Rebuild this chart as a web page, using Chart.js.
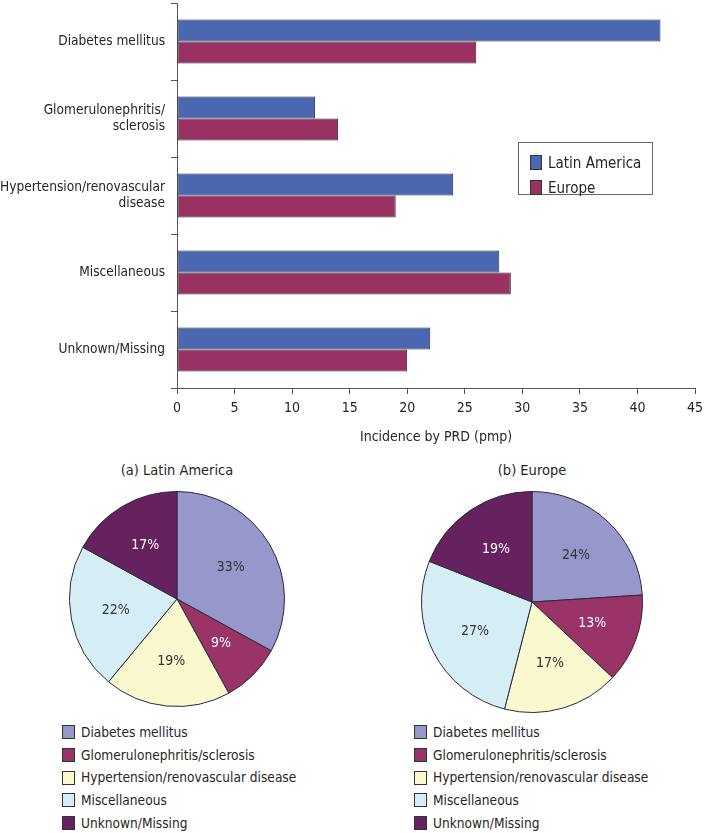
<!DOCTYPE html>
<html>
<head>
<meta charset="utf-8">
<script src="https://cdn.jsdelivr.net/npm/chart.js@4.4.1/dist/chart.umd.min.js"></script>
<style>
  body { margin:0; background:#fff; width:709px; height:833px; position:relative; overflow:hidden;
         font-family:"Liberation Sans Narrow","DejaVu Sans Condensed",sans-serif; color:#262626; }
  .abs { position:absolute; }
  .legend { position:absolute; font-size:13.6px; line-height:22.7px; }
  .legend div { display:flex; align-items:center; white-space:nowrap; }
  .legend span.sw { display:inline-block; width:11px; height:12px; border:1px solid #333; margin-right:6px; }
  .ptitle { position:absolute; font-size:14.5px; text-align:center; width:200px; }
  #barLegend { position:absolute; left:518px; top:142px; width:135px; height:53px; border:1px solid #666;
               font-size:15px; box-sizing:border-box; padding:7px 0 0 11px; }
  #barLegend div { display:flex; align-items:center; height:25px; }
  #barLegend span.sw { display:inline-block; width:10px; height:13px; border:1px solid #333; margin-right:6px; }
</style>
</head>
<body>
<canvas id="bars" class="abs" style="left:0;top:0" width="709" height="450"></canvas>
<div id="barLegend"></div>

<div class="ptitle" style="left:77px;top:462px">(a) Latin America</div>
<div class="ptitle" style="left:432px;top:462px">(b) Europe</div>
<canvas id="pieLA" class="abs" style="left:0;top:490px" width="354" height="218"></canvas>
<canvas id="pieEU" class="abs" style="left:420px;top:490px" width="224" height="224"></canvas>
<div id="legLA" class="legend" style="left:62px;top:721px"></div>
<div id="legEU" class="legend" style="left:414px;top:721px"></div>

<script>
const FONT = "'Liberation Sans Narrow','DejaVu Sans Condensed',sans-serif";
const TEXT = "#262626";
Chart.defaults.font.family = FONT;
Chart.defaults.color = TEXT;

// bar chart data
const causes = ["Diabetes mellitus", ["Glomerulonephritis/", "sclerosis"], ["Hypertension/renovascular", "disease"], "Miscellaneous", "Unknown/Missing"];
const latinAmerica = [42, 12, 24, 28, 22];
const europe = [26, 14, 19, 29, 20];
const seriesNames = ["Latin America", "Europe"];

// pie data (percent)
const pieLabels = ["Diabetes mellitus", "Glomerulonephritis/sclerosis", "Hypertension/renovascular disease", "Miscellaneous", "Unknown/Missing"];
const pieLatinAmerica = [33, 9, 19, 22, 17];
const pieEurope = [24, 13, 17, 27, 19];

const BAR_COLORS = ["#4A67AF", "#993163"];
const PIE_COLORS = ["#9797CB", "#9A3366", "#FAF8CF", "#D5EEF6", "#66215F"];
const PIE_TEXT = ["#333", "#fff", "#333", "#333", "#fff"];

new Chart(document.getElementById("bars"), {
  type: "bar",
  data: {
    labels: causes,
    datasets: [latinAmerica, europe].map((d, i) => ({
      label: seriesNames[i],
      data: d,
      backgroundColor: BAR_COLORS[i],
      borderColor: "#2a2a3a",
      borderWidth: 1,
      borderSkipped: false,
      categoryPercentage: 0.57,
      barPercentage: 1
    }))
  },
  options: {
    indexAxis: "y",
    responsive: false,
    animation: false,
    layout: { padding: { top: 3, right: 14, left: 0, bottom: 0 } },
    plugins: { legend: { display: false }, tooltip: { enabled: false } },
    scales: {
      x: {
        min: 0, max: 45,
        ticks: { stepSize: 5, font: { size: 14 }, padding: 6, color: TEXT },
        grid: { drawOnChartArea: false, tickLength: 6, color: "#555" },
        border: { color: "#555" },
        title: { display: true, text: "Incidence by PRD (pmp)", font: { size: 14 }, color: TEXT, padding: { top: 0, bottom: 4 } },
        afterFit: (s) => { s.height = 62; s.paddingLeft = 0; s.paddingRight = 0; }
      },
      y: {
        ticks: { font: { size: 13.6 }, padding: 6, color: TEXT },
        grid: { drawOnChartArea: false, offset: true, tickLength: 6, color: "#555" },
        border: { color: "#555" },
        afterFit: (s) => { s.width = 177; s.paddingTop = 0; s.paddingBottom = 0; }
      }
    }
  }
});

document.getElementById("barLegend").innerHTML = seriesNames.map((n, i) =>
  `<div><span class="sw" style="background:${BAR_COLORS[i]}"></span>${n}</div>`).join("");

const pctLabels = {
  id: "pctLabels",
  afterDatasetsDraw(chart) {
    const ctx = chart.ctx;
    const meta = chart.getDatasetMeta(0);
    ctx.save();
    ctx.font = "14px " + FONT;
    ctx.textAlign = "center";
    ctx.textBaseline = "middle";
    meta.data.forEach((arc, i) => {
      const a = (arc.startAngle + arc.endAngle) / 2;
      const r = arc.outerRadius * 0.58;
      ctx.fillStyle = PIE_TEXT[i];
      ctx.fillText(chart.data.datasets[0].data[i] + "%", arc.x + Math.cos(a) * r, arc.y + Math.sin(a) * r);
    });
    ctx.restore();
  }
};

function makePie(id, values) {
  return new Chart(document.getElementById(id), {
    type: "pie",
    data: {
      labels: pieLabels,
      datasets: [{ data: values, backgroundColor: PIE_COLORS, borderColor: "#2a2a3a", borderWidth: 1 }]
    },
    options: {
      responsive: false,
      animation: false,
      layout: { padding: 1 },
      plugins: { legend: { display: false }, tooltip: { enabled: false } }
    },
    plugins: [pctLabels]
  });
}
makePie("pieLA", pieLatinAmerica);
makePie("pieEU", pieEurope);

function pieLegend(id) {
  document.getElementById(id).innerHTML = pieLabels.map((n, i) =>
    `<div><span class="sw" style="background:${PIE_COLORS[i]}"></span>${n}</div>`).join("");
}
pieLegend("legLA");
pieLegend("legEU");
</script>
</body>
</html>
